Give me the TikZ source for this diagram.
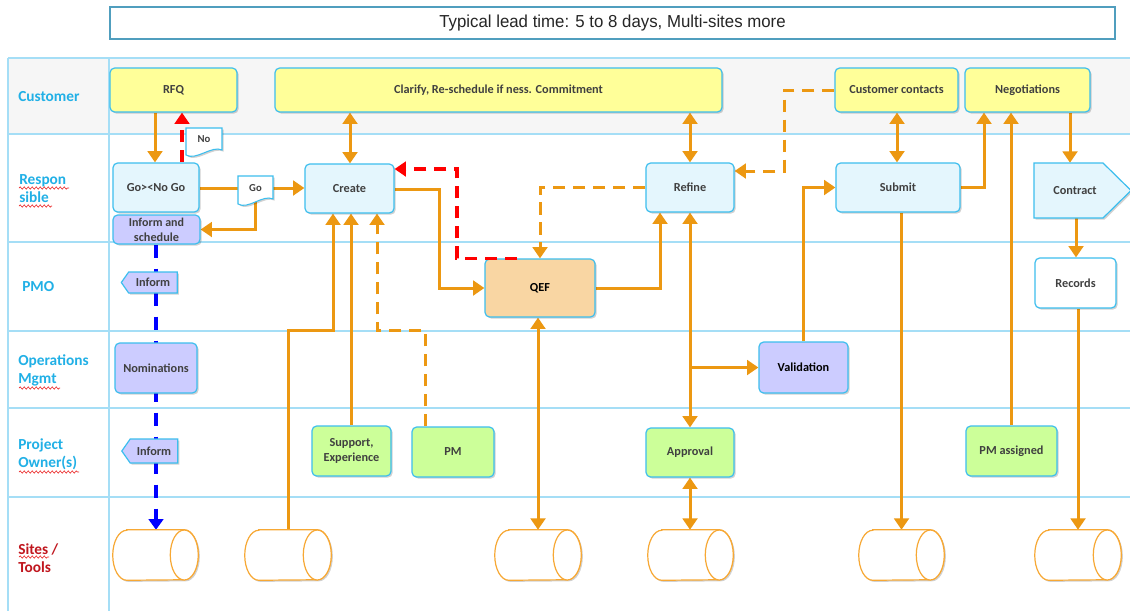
\documentclass[tikz,border=0pt]{standalone}
\usepackage{fontspec}
\setmainfont{Carlito}
\newfontfamily\headfont[FakeStretch=0.97]{Liberation Sans}
\usetikzlibrary{arrows.meta,shapes.geometric,shapes.symbols,shadows,calc,decorations.pathmorphing}

\definecolor{laneline}{RGB}{165,222,246}
\definecolor{lanefill}{RGB}{246,246,246}
\definecolor{boxline}{RGB}{60,190,238}
\definecolor{boxtext}{RGB}{64,64,64}
\definecolor{fyellow}{RGB}{255,255,153}
\definecolor{fblue}{RGB}{228,246,253}
\definecolor{flav}{RGB}{204,204,255}
\definecolor{fgreen}{RGB}{204,255,153}
\definecolor{forange}{RGB}{249,214,163}
\definecolor{flow}{RGB}{236,152,18}
\definecolor{drumline}{RGB}{247,168,52}
\definecolor{lblue}{RGB}{33,176,230}
\definecolor{lred}{RGB}{192,22,30}
\definecolor{headline}{RGB}{80,158,190}
\definecolor{nogo}{RGB}{255,0,0}
\definecolor{notice}{RGB}{0,0,255}
\definecolor{spell}{RGB}{235,40,40}

\pgfdeclarelayer{lanes}
\pgfdeclarelayer{links}
\pgfsetlayers{lanes,links,main}

% node placed by its pixel box: style, x0, y0, x1, y1, name, text
\newcommand{\stepnode}[7]{%
  \node[#1, minimum width={(#4-#2)*0.75pt}, minimum height={(#5-#3)*0.75pt}]
    (#6) at ({(#2+#4)/2},{(#3+#5)/2}) {#7};}

% horizontal storage drum on the sites row: name, x0, x1
\newcommand{\drum}[3]{%
  \stepnode{drumbox}{#2}{530}{#3}{580}{#1}{}
  \filldraw[store, shade] ($(#1.north west)+(14,0)$) -- ($(#1.north east)+(-14,0)$)
    arc[start angle=90, end angle=-90, x radius=10.5pt, y radius=18.75pt]
    -- ($(#1.south west)+(14,0)$)
    arc[start angle=270, end angle=90, x radius=10.5pt, y radius=18.75pt] -- cycle;
  \draw[store] ($(#1.east)+(-14,0)$) ellipse [x radius=10.5pt, y radius=18.75pt];}

\tikzset{
  lbl/.style={inner sep=1pt, align=center, text=boxtext,
    font=\fontsize{9.2}{11}\selectfont\bfseries},
  shade/.style={drop shadow={shadow xshift=1.2pt, shadow yshift=-1.2pt, opacity=0.18, fill=black}},
  proc/.style={lbl, draw=boxline, line width=0.9pt, rounded corners=3.5pt, shade},
  cust/.style={proc, fill=fyellow},
  resp/.style={proc, fill=fblue},
  pmo/.style={proc, fill=flav},
  owner/.style={proc, fill=fgreen},
  qefbox/.style={proc, fill=forange, text=black},
  recbox/.style={proc, fill=white},
  informsig/.style={lbl, draw=boxline, line width=0.9pt, fill=flav, shade,
    shape=signal, signal to=west, signal from=nowhere, signal pointer angle=110},
  callout/.style={draw=boxline, line width=0.8pt, fill=white, shade},
  calltext/.style={lbl, font=\fontsize{8}{10}\selectfont\bfseries},
  drumbox/.style={inner sep=0pt},
  store/.style={draw=drumline, line width=0.9pt, fill=white},
  headbox/.style={draw=headline, line width=0.9pt, inner sep=0pt,
    text={black!85}, font=\headfont\fontsize{13}{15}\selectfont},
  lane/.style={draw=laneline, line width=1.1pt},
  lanelabel/.style={anchor=west, inner sep=0pt, align=left, text=lblue,
    font=\fontsize{11.5}{13.5}\selectfont\bfseries},
  squiggle/.style={draw=spell, line width=0.5pt, decorate,
    decoration={snake, amplitude=0.8pt, segment length=3pt}},
  flowline/.style={draw=flow, line width=2.25pt},
  oarr/.style={flowline, -{Triangle[width=11pt,length=8.5pt]}},
  odbl/.style={flowline, {Triangle[width=11pt,length=8.5pt]}-{Triangle[width=11pt,length=8.5pt]}},
  odash/.style={oarr, dash pattern=on 9.5pt off 5.5pt},
  rdash/.style={draw=nogo, line width=2.6pt, dash pattern=on 9pt off 6pt,
    -{Triangle[width=11pt,length=8.5pt]}},
  bdash/.style={draw=notice, line width=2.6pt, dash pattern=on 10pt off 8pt,
    -{Triangle[width=11pt,length=8pt]}},
}

\begin{document}
\begin{tikzpicture}[x=0.75pt,y=-0.75pt]
\useasboundingbox (0,0) rectangle (1130,611);

% helper columns and rows for connector routing
\foreach \v in {155,156,182,333,350,351,377,425,439,517,457,540,660,690,784,897,984,1011,1070,1076}
  \coordinate (X\v) at (\v,0);
\foreach \v in {169,171,188,189,330}
  \coordinate (Y\v) at (0,\v);

% swimlanes
\begin{pgfonlayer}{lanes}
  \fill[white] (0,0) rectangle (1130,611);
  \fill[lanefill] (8,58) rectangle (1130,134);
  \draw[lane] (8,58) -- (1130,58);
  \foreach \y in {134,242,331,408,497}
    \draw[lane] (8,\y) -- (1130,\y);
  \draw[lane] (8,58) -- (8,611);
  \draw[lane] (109,58) -- (109,611);
\end{pgfonlayer}

% heading
\stepnode{headbox}{110}{7}{1115}{39}{lead}{Typical lead time: 5 to 8 days, Multi-sites more}

% lane titles
\node[lanelabel] (lcust) at (18,97) {Customer};
\node[lanelabel] (lresp) at (19,189) {Respon\\sible};
\node[lanelabel] (lpmo) at (22,287) {PMO};
\node[lanelabel] (lops) at (18,370) {Operations\\Mgmt};
\node[lanelabel] (lown) at (18,454) {Project\\Owner(s)};
\node[lanelabel, text=lred] (lsite) at (18,558) {Sites /\\Tools};
\draw[squiggle] (19,188) -- (69,188);
\draw[squiggle] (19,206) -- (52,206);
\draw[squiggle] (19,388) -- (60,388);
\draw[squiggle] (19,472) -- (79,472);
\draw[squiggle] (19,557) -- (49,557);

% customer lane
\stepnode{cust}{110}{68}{237}{112}{rfq}{RFQ}
\stepnode{cust}{275}{68}{722}{112}{clarify}{Clarify, Re-schedule if ness. Commitment}
\stepnode{cust}{835}{68}{958}{112}{ccontacts}{Customer contacts}
\stepnode{cust}{965}{68}{1090}{112}{negot}{Negotiations}

% responsible lane
\stepnode{resp}{113}{163}{199}{212}{gonogo}{Go>{}<No Go}
\stepnode{pmo}{113}{215}{200}{244}{infsched}{\fontsize{9}{10}\selectfont Inform and\\schedule}
\stepnode{resp}{305}{164}{394}{213}{create}{Create}
\stepnode{resp}{646}{163}{734}{212}{refine}{Refine}
\stepnode{resp}{836}{163}{960}{212}{submit}{Submit}
\filldraw[draw=boxline, line width=0.9pt, fill=fblue, shade]
  (1034,163) -- (1103,163) -- (1131,190.5) -- (1103,218) -- (1034,218) -- cycle;
\stepnode{lbl}{1047}{163}{1103}{218}{contract}{Contract}

% PMO lane
\stepnode{informsig}{125}{272}{181}{293}{inform1}{Inform}
\stepnode{qefbox}{485}{259}{595}{317}{qef}{QEF}
\stepnode{recbox}{1035}{258}{1116}{308}{records}{Records}

% operations lane
\stepnode{pmo}{115}{343}{197}{393}{nomin}{Nominations}
\stepnode{pmo}{759}{342}{848}{393}{valid}{\color{black}Validation}

% project owner lane
\stepnode{informsig}{126}{439}{182}{463}{inform2}{Inform}
\stepnode{owner}{312}{426}{391}{476}{support}{Support,\\Experience}
\stepnode{owner}{412}{427}{494}{477}{pm}{PM}
\stepnode{owner}{646}{428}{734}{477}{approval}{Approval}
\stepnode{owner}{966}{426}{1057}{476}{pmassigned}{PM assigned}

% sites and tools
\drum{cyl1}{113}{198}
\drum{cyl2}{245}{331}
\drum{cyl3}{495}{581}
\drum{cyl4}{648}{733}
\drum{cyl5}{859}{944}
\drum{cyl6}{1035}{1121}

% flows
\begin{pgfonlayer}{links}
\draw[oarr] (rfq.south -| X155) -- (gonogo.north -| X155);
\draw[rdash] (gonogo.north -| X182) -- (rfq.south -| X182);
\draw[oarr] (gonogo.east |- Y188) -- (create.west |- Y188);
\draw[bdash] (infsched.south -| X156) -- (cyl1.north -| X156);
\draw[odbl] (clarify.south -| X350) -- (create.north -| X350);
\draw[odbl] (clarify.south -| X690) -- (refine.north -| X690);
\draw[oarr] (create.east |- Y189) -- (X439 |- Y189) -- (X439 |- qef.west) -- (qef.west);
\draw[oarr] (qef.east) -- (X660 |- qef.east) -- (refine.south -| X660);
\draw[odash] (refine.west) -- (X540 |- refine.west) -- (qef.north -| X540);
\draw[odash] (ccontacts.west) -- (X784 |- ccontacts.west) -- (X784 |- Y171) -- (refine.east |- Y171);
\draw[odbl] (ccontacts.south -| X897) -- (submit.north -| X897);
\draw[oarr] (submit.east) -- (X984 |- submit.east) -- (negot.south -| X984);
\draw[oarr] (pmassigned.north -| X1011) -- (negot.south -| X1011);
\draw[oarr] (negot.south -| X1070) -- (contract.north -| X1070);
\draw[oarr] (contract.south -| X1076) -- (records.north -| X1076);
\draw[oarr] (records.south -| cyl6.north) -- (cyl6.north);
\draw[oarr] (submit.south -| cyl5.north) -- (cyl5.north);
\draw[oarr] (valid.north) -- (valid.north |- submit.west) -- (submit.west);
\draw[odbl] (refine.south -| X690) -- (approval.north -| X690);
\draw[oarr] (X690 |- valid.west) -- (valid.west);
\draw[odbl] (approval.south -| X690) -- (cyl4.north -| X690);
\draw[odbl] (qef.south -| cyl3.north) -- (cyl3.north);
\draw[oarr] (cyl2.north) -- (cyl2.north |- Y330) -- (X333 |- Y330) -- (create.south -| X333);
\draw[oarr] (support.north -| X351) -- (create.south -| X351);
\draw[odash] (pm.north -| X425) -- (X425 |- Y330) -- (X377 |- Y330) -- (create.south -| X377);
\end{pgfonlayer}

% decision notes
\path[callout] (186,128) -- (222,128) -- (222,150) .. controls (212,145) and (196,161) .. (186,155) -- cycle;
\stepnode{calltext}{186}{128}{222}{151}{no}{No}
\begin{pgfonlayer}{links}
\draw[oarr] (255.5,200) coordinate (gofoot) |- (infsched.east);
\end{pgfonlayer}
\path[callout] (238,176) -- (273,176) -- (273,199) .. controls (263,194) and (248,210) .. (238,204) -- cycle;
\stepnode{calltext}{238}{176}{273}{200}{go}{Go}

% rework loop from QEF back to Create
\draw[rdash] (qef.north -| X517) -- (X457 |- qef.north) -- (X457 |- Y169) -- (create.east |- Y169);
\end{tikzpicture}
\end{document}
